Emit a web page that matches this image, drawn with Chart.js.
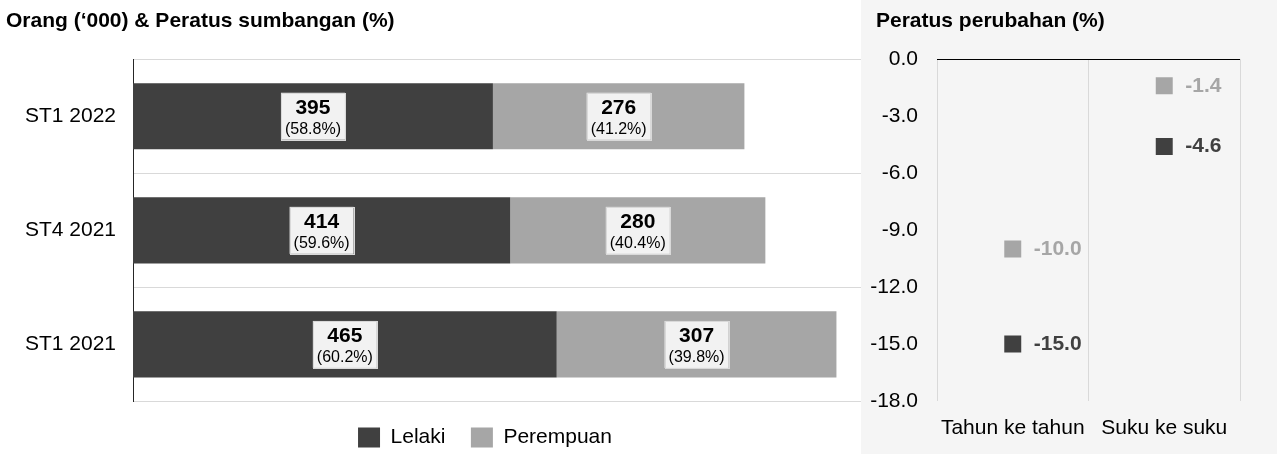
<!DOCTYPE html>
<html>
<head>
<meta charset="utf-8">
<script src="https://cdn.jsdelivr.net/npm/chart.js@4.4.1/dist/chart.umd.min.js"></script>
<style>
  body { margin: 0; background: #fff; }
  #wrap { position: relative; width: 1277px; height: 454px; overflow: hidden; }
  #left { position: absolute; left: 0; top: 0; width: 964px; height: 458px; }
  #right { position: absolute; left: 861px; top: 0; width: 416px; height: 454px; background: #f5f5f5; }
</style>
</head>
<body>
<div id="wrap">
  <div id="left"><canvas id="share-chart"></canvas></div>
  <div id="right"><canvas id="change-chart"></canvas></div>
</div>
<script>
const quarters = ['ST1 2022', 'ST4 2021', 'ST1 2021'];
const lelaki = [395, 414, 465];
const perempuan = [276, 280, 307];
const lelakiPct = [58.8, 59.6, 60.2];
const perempuanPct = [41.2, 40.4, 39.8];

const changeTypes = ['Tahun ke tahun', 'Suku ke suku'];
const lelakiChange = [-15.0, -4.6];
const perempuanChange = [-10.0, -1.4];
const changeTicks = [0, -3, -6, -9, -12, -15, -18];

const FONT = "'Liberation Sans', Arial, sans-serif";
const DARK = '#404040';
const LIGHT = '#a6a6a6';

Chart.defaults.font.family = FONT;
Chart.defaults.color = '#000';

// number + share box in the middle of each bar segment
const barLabels = {
    id: 'barLabels',
    afterDatasetsDraw(chart) {
        const ctx = chart.ctx;
        chart.data.datasets.forEach((ds, i) => {
            chart.getDatasetMeta(i).data.forEach((bar, j) => {
                const cx = (bar.x + bar.base) / 2;
                const cy = bar.y;
                const num = String(ds.data[j]);
                const pct = '(' + ds.pct[j].toFixed(1) + '%)';
                ctx.save();
                ctx.font = 'bold 21px ' + FONT;
                const w1 = ctx.measureText(num).width;
                ctx.font = '16px ' + FONT;
                const w2 = ctx.measureText(pct).width;
                const w = Math.max(w1, w2) + 8;
                ctx.fillStyle = '#f2f2f2';
                ctx.fillRect(cx - w / 2, cy - 23.5, w, 47);
                ctx.strokeStyle = '#d9d9d9';
                ctx.lineWidth = 1;
                ctx.strokeRect(Math.round(cx - w / 2) + 0.5, Math.round(cy - 23.5) + 0.5, Math.round(w), 47);
                ctx.fillStyle = '#000';
                ctx.textAlign = 'center';
                ctx.textBaseline = 'middle';
                ctx.font = 'bold 21px ' + FONT;
                ctx.fillText(num, cx, cy - 8);
                ctx.font = '16px ' + FONT;
                ctx.fillText(pct, cx, cy + 13);
                ctx.restore();
            });
        });
    }
};

// value text to the right of each square marker
const pointLabels = {
    id: 'pointLabels',
    afterDatasetsDraw(chart) {
        const ctx = chart.ctx;
        chart.data.datasets.forEach((ds, i) => {
            chart.getDatasetMeta(i).data.forEach((pt, j) => {
                ctx.save();
                ctx.font = 'bold 21px ' + FONT;
                ctx.fillStyle = ds.backgroundColor;
                ctx.textAlign = 'left';
                ctx.textBaseline = 'middle';
                ctx.fillText(ds.data[j].toFixed(1), pt.x + 21, pt.y);
                ctx.restore();
            });
        });
    }
};

// push the title right without moving the y axis box (its labels get clipped to that box)
const titleIndent = {
    id: 'titleIndent',
    afterLayout(chart, args, opts) {
        if (chart.titleBlock) chart.titleBlock.left += opts.x;
    }
};

new Chart(document.getElementById('share-chart'), {
    type: 'bar',
    data: {
        labels: quarters,
        datasets: [
            { label: 'Lelaki', data: lelaki, pct: lelakiPct, backgroundColor: DARK, borderWidth: 0 },
            { label: 'Perempuan', data: perempuan, pct: perempuanPct, backgroundColor: LIGHT, borderWidth: 0 }
        ]
    },
    options: {
        indexAxis: 'y',
        responsive: true,
        maintainAspectRatio: false,
        animation: false,
        categoryPercentage: 1,
        barPercentage: 0.58,
        layout: { padding: { left: 6, right: 0, top: 0, bottom: 0 } },
        scales: {
            x: {
                stacked: true,
                min: 0,
                max: 912, // runs on under the right-hand panel
                display: false
            },
            y: {
                stacked: true,
                grid: { color: '#d9d9d9', drawTicks: false },
                border: { color: '#262626', width: 1 },
                ticks: { font: { size: 21 }, color: '#000', padding: 17 },
                afterFit(scale) { scale.width = 127; }
            }
        },
        plugins: {
            title: {
                display: true,
                text: 'Orang (\u2018000) & Peratus sumbangan (%)',
                align: 'start',
                color: '#000',
                font: { size: 21, weight: 'bold' },
                padding: { top: 9, bottom: 25 }
            },
            legend: {
                position: 'bottom',
                labels: {
                    boxWidth: 22,
                    boxHeight: 20,
                    padding: 25.5,
                    color: '#000',
                    font: { size: 21 }
                }
            },
            tooltip: { enabled: false }
        }
    },
    plugins: [barLabels]
});

new Chart(document.getElementById('change-chart'), {
    type: 'line',
    data: {
        labels: changeTypes,
        datasets: [
            { label: 'Lelaki', data: lelakiChange, backgroundColor: DARK, borderColor: DARK },
            { label: 'Perempuan', data: perempuanChange, backgroundColor: LIGHT, borderColor: LIGHT }
        ]
    },
    options: {
        responsive: true,
        maintainAspectRatio: false,
        animation: false,
        showLine: false,
        elements: {
            point: { pointStyle: 'rect', radius: 12, borderWidth: 0, hoverRadius: 12 }
        },
        layout: { padding: { left: 0, right: 37, top: 0, bottom: 0 } },
        scales: {
            x: {
                offset: true,
                grid: { offset: true, color: '#d9d9d9', drawTicks: false },
                border: { display: false },
                ticks: { font: { size: 21 }, color: '#000', padding: 15, maxRotation: 0 },
                afterFit(scale) { scale.height = 53; }
            },
            y: {
                min: Math.min(...changeTicks),
                max: Math.max(...changeTicks),
                grid: {
                    drawTicks: false,
                    color: c => (c.tick && c.tick.value === 0 ? '#000' : 'rgba(0,0,0,0)')
                },
                border: { display: false },
                ticks: {
                    stepSize: 3,
                    font: { size: 21 },
                    color: '#000',
                    padding: 19,
                    callback: v => v.toFixed(1)
                },
                afterFit(scale) { scale.width = 76; }
            }
        },
        plugins: {
            title: {
                display: true,
                text: 'Peratus perubahan (%)',
                align: 'start',
                color: '#000',
                font: { size: 21, weight: 'bold' },
                padding: { top: 9, bottom: 25 }
            },
            titleIndent: { x: 15 },
            legend: { display: false },
            tooltip: { enabled: false }
        }
    },
    plugins: [pointLabels, titleIndent]
});
</script>
</body>
</html>
